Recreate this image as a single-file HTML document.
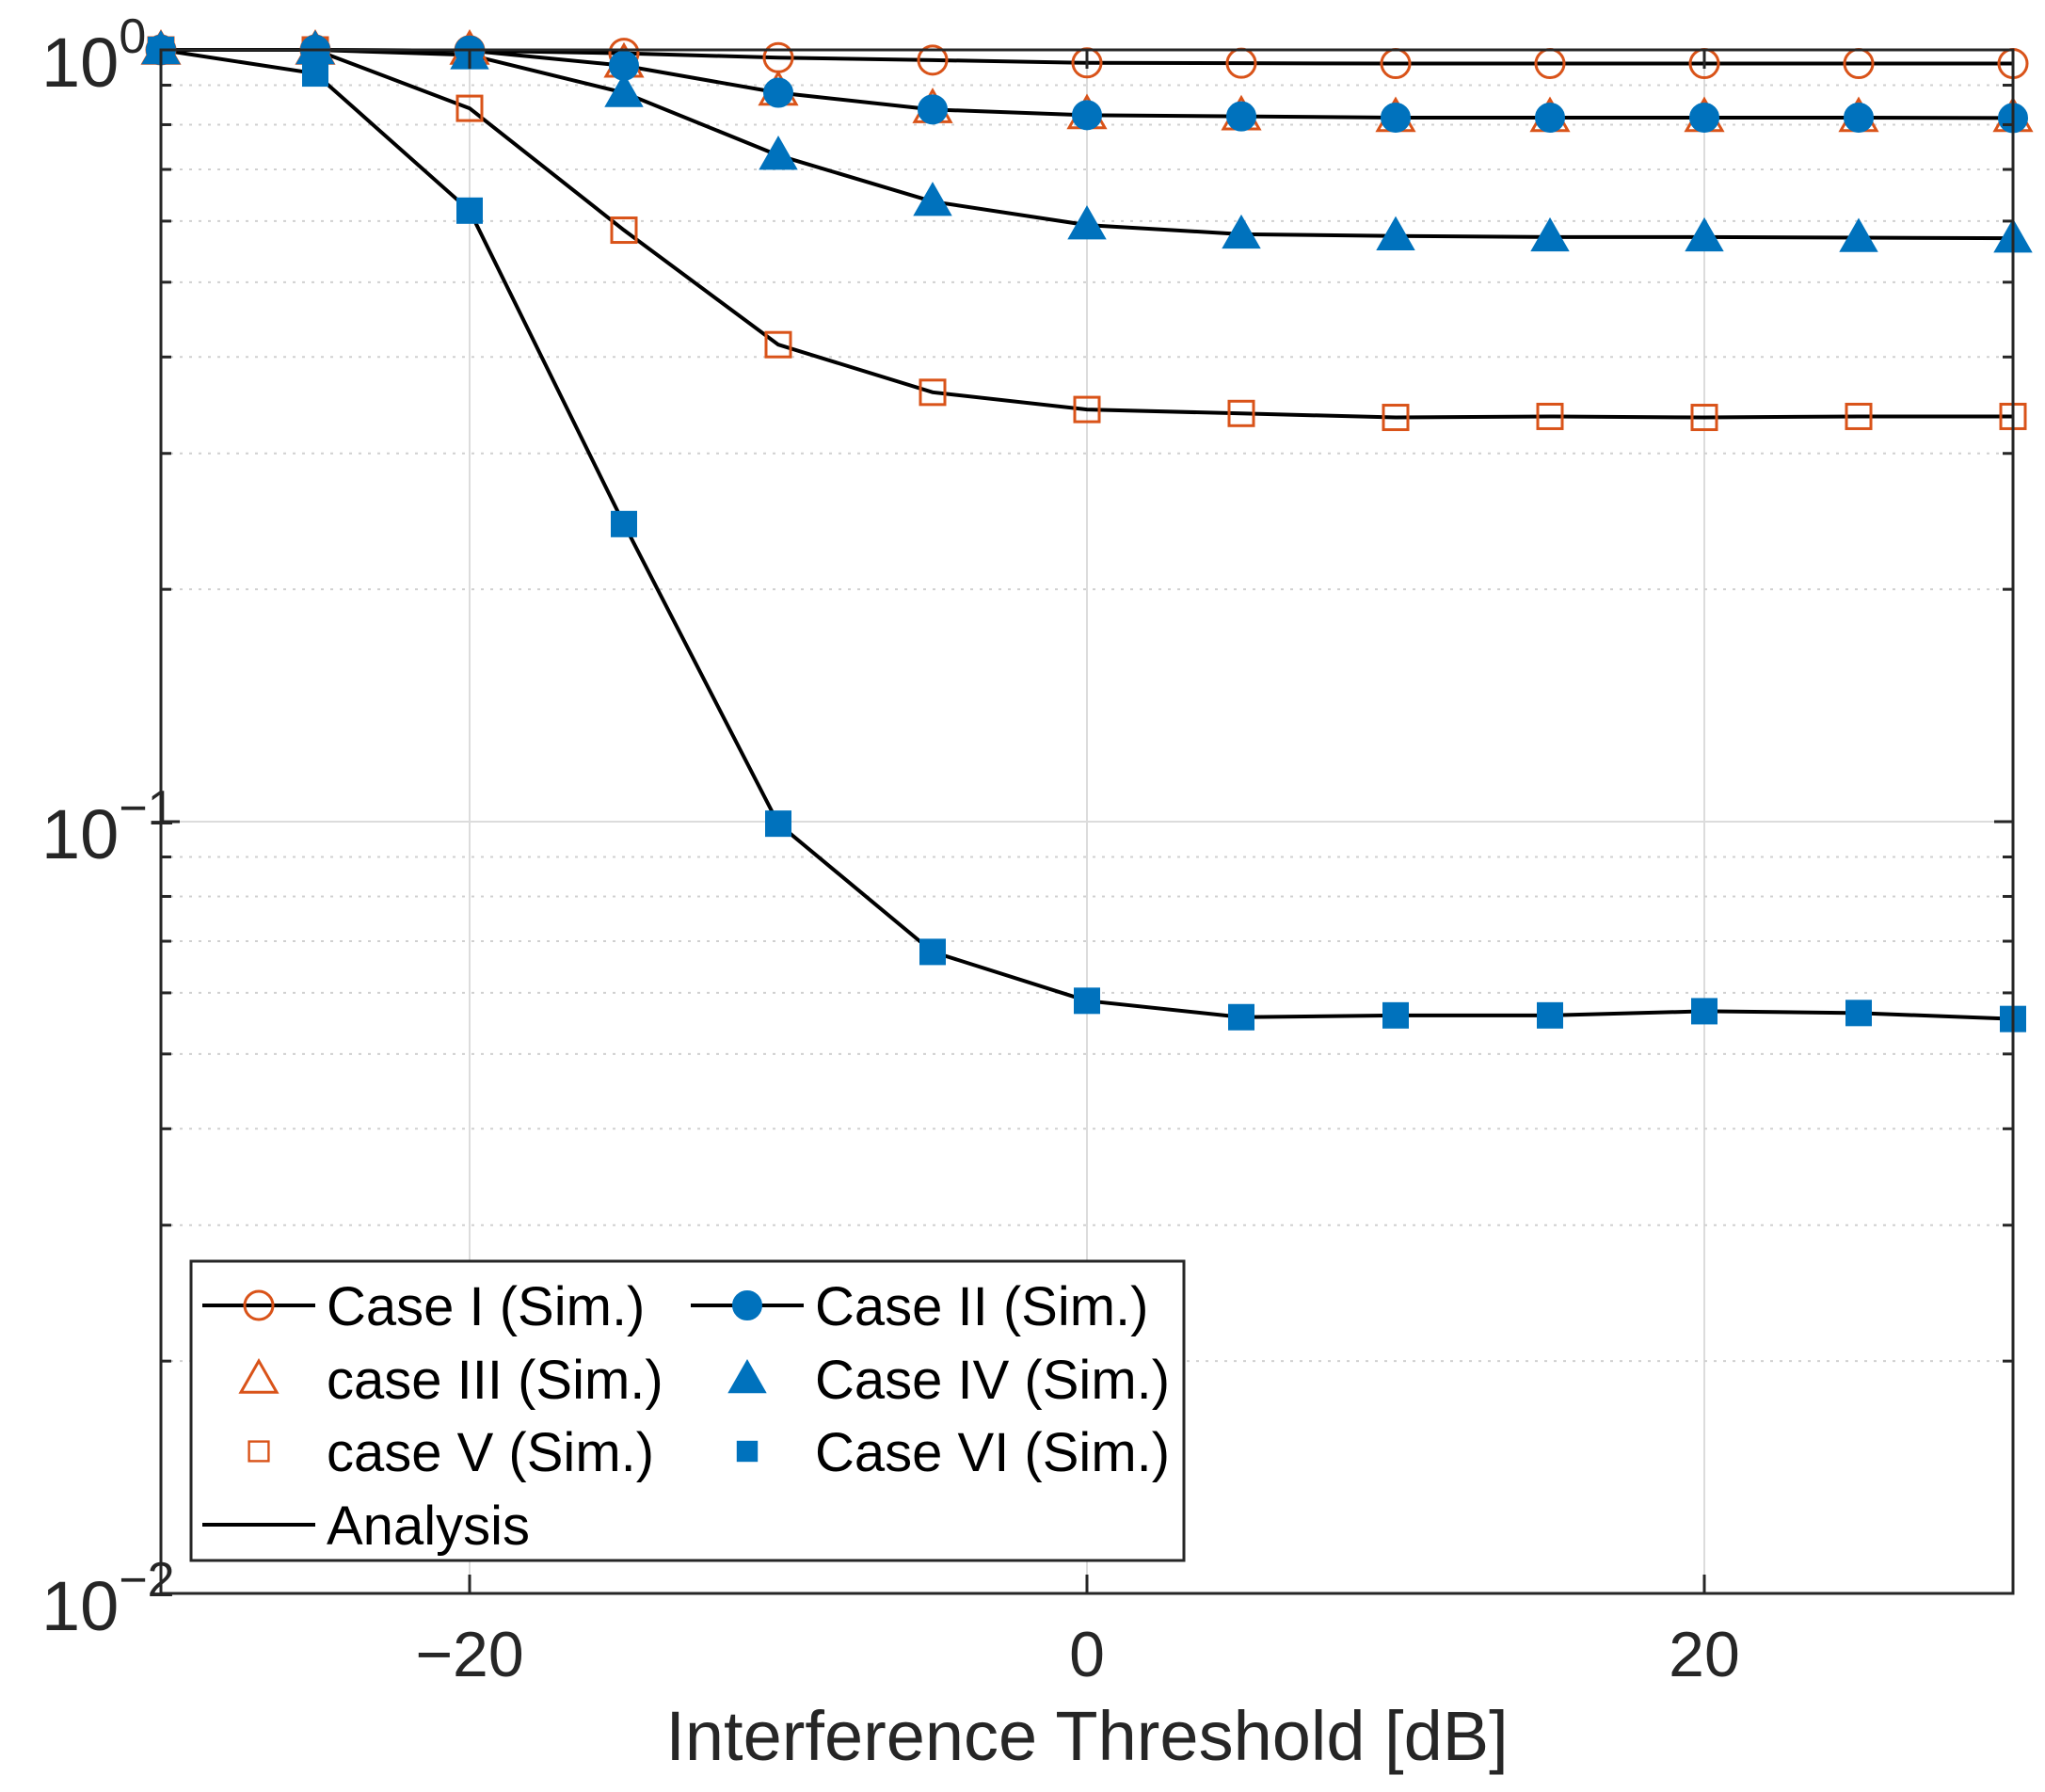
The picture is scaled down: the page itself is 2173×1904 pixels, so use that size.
<!DOCTYPE html>
<html><head><meta charset="utf-8"><style>
html,body{margin:0;padding:0;background:#fff;}
svg{display:block;font-family:"Liberation Sans",sans-serif;}
</style></head><body>
<svg id="chart" width="2173" height="1904" viewBox="0 0 2173 1904" xmlns="http://www.w3.org/2000/svg">
<g id="grid"></g>
<g id="series"></g>
<g id="axes"></g>
<g id="legend"></g>
</svg>
<script>
const xValues = [-30,-25,-20,-15,-10,-5,0,5,10,15,20,25,30];
const caseI   = [1.0,1.0,0.998,0.99,0.977,0.97,0.962,0.961,0.96,0.96,0.96,0.96,0.96];
const caseII  = [1.0,1.0,0.998,0.954,0.88,0.837,0.823,0.82,0.817,0.817,0.817,0.817,0.816];
const caseIII = [1.0,1.0,1.0,0.962,0.885,0.84,0.825,0.822,0.818,0.818,0.818,0.818,0.818];
const caseIV  = [1.0,1.0,0.985,0.88,0.73,0.636,0.593,0.577,0.574,0.572,0.572,0.571,0.57];
const caseV   = [1.0,1.0,0.84,0.584,0.415,0.36,0.342,0.338,0.334,0.335,0.334,0.335,0.335];
const caseVI  = [1.0,0.932,0.619,0.243,0.0994,0.0678,0.0586,0.0558,0.0561,0.0561,0.0568,0.0565,0.0555];
const xTicks = [-20,0,20];
const xTickLabels = ["\u221220","0","20"];
const yTickExps = [0,-1,-2];
const yTickLabels = ["0","\u22121","\u22122"];

const L=171,R=2139,T=53,B=1693;
const xs=v=>L+(v+30)/60*(R-L);
const ys=v=>T+(0-Math.log10(v))/2*(B-T);
const NS="http://www.w3.org/2000/svg";
function mk(tag,attrs,parent){const e=document.createElementNS(NS,tag);for(const k in attrs)e.setAttribute(k,attrs[k]);parent.appendChild(e);return e;}
const grid=document.getElementById('grid'),ser=document.getElementById('series'),ax=document.getElementById('axes'),lg=document.getElementById('legend');
const ORANGE="#D95319",BLUE="#0072BD";

xTicks.forEach(t=>{const g=mk('line',{x1:xs(t),x2:xs(t),y1:T,y2:B,stroke:'#dcdcdc','stroke-width':2},grid);
});
for(let d=-2;d<0;d++){for(let m=2;m<=9;m++){const v=m*Math.pow(10,d);
const g=mk('line',{x1:L,x2:R,y1:ys(v),y2:ys(v),stroke:'#d0d0d0','stroke-width':2,'stroke-dasharray':'3,7'},grid);
}}
yTickExps.forEach(e=>{const g=mk('line',{x1:L,x2:R,y1:ys(Math.pow(10,e)),y2:ys(Math.pow(10,e)),stroke:'#dcdcdc','stroke-width':2},grid);
});

function line(vals,name){const d=vals.map((v,i)=>(i?'L':'M')+xs(xValues[i])+','+ys(v)).join(' ');
const p=mk('path',{d:d,fill:'none',stroke:'#000','stroke-width':4},ser);
}
function marker(type,x,y,color,filled,parent){let e;
if(type==='circle')e=mk('circle',{cx:x,cy:y,r:15},parent);
else if(type==='tri'){const s=19;e=mk('polygon',{points:`${x},${y-s} ${x-s},${y+s*0.75} ${x+s},${y+s*0.75}`},parent);}
else e=mk('rect',{x:x-13,y:y-13,width:26,height:26},parent);
e.setAttribute('fill',filled?color:'none');e.setAttribute('stroke',color);e.setAttribute('stroke-width',filled?2:3);return e;}
function markers(vals,type,color,filled,name){vals.forEach((v,i)=>{const e=marker(type,xs(xValues[i]),ys(v),color,filled,ser);
});}
line(caseI,'analysis-line-case-1');line(caseII,'analysis-line-case-2');line(caseIV,'analysis-line-case-4');line(caseV,'analysis-line-case-5');line(caseVI,'analysis-line-case-6');
markers(caseI,'circle',ORANGE,false,'case-1-point');
markers(caseIII,'tri',ORANGE,false,'case-3-point');
markers(caseV,'rect',ORANGE,false,'case-5-point');
markers(caseII,'circle',BLUE,true,'case-2-point');
markers(caseIV,'tri',BLUE,true,'case-4-point');
markers(caseVI,'rect',BLUE,true,'case-6-point');

const box=mk('rect',{x:L,y:T,width:R-L,height:B-T,fill:'none',stroke:'#262626','stroke-width':3},ax);

xTicks.forEach((t,i)=>{mk('line',{x1:xs(t),x2:xs(t),y1:B,y2:B-20,stroke:'#262626','stroke-width':3},ax);
mk('line',{x1:xs(t),x2:xs(t),y1:T,y2:T+20,stroke:'#262626','stroke-width':3},ax);
const tx=mk('text',{x:xs(t),y:1781,'font-size':68,'text-anchor':'middle',fill:'#262626'},ax);tx.textContent=xTickLabels[i];
});
yTickExps.forEach((e,i)=>{const y=ys(Math.pow(10,e));
mk('line',{x1:L,x2:L+20,y1:y,y2:y,stroke:'#262626','stroke-width':3},ax);
mk('line',{x1:R,x2:R-20,y1:y,y2:y,stroke:'#262626','stroke-width':3},ax);
const tx=mk('text',{x:44,y:y+39,'font-size':74,fill:'#262626'},ax);

const a=document.createElementNS(NS,'tspan');a.textContent='10';tx.appendChild(a);
const b=document.createElementNS(NS,'tspan');b.setAttribute('dy','-36');b.setAttribute('font-size','52');b.textContent=yTickLabels[i];tx.appendChild(b);});
for(let d=-2;d<0;d++){for(let m=2;m<=9;m++){const y=ys(m*Math.pow(10,d));
mk('line',{x1:L,x2:L+11,y1:y,y2:y,stroke:'#262626','stroke-width':3},ax);mk('line',{x1:R,x2:R-11,y1:y,y2:y,stroke:'#262626','stroke-width':3},ax);}}
const xl=mk('text',{x:(L+R)/2,y:1870,'font-size':74,'text-anchor':'middle',fill:'#262626'},ax);xl.textContent='Interference Threshold [dB]';


const lb=mk('rect',{x:203,y:1340,width:1055,height:318,fill:'#fff',stroke:'#262626','stroke-width':3},lg);

const entries=[
 {x:275,tx:347,y:1387,t:'Case I (Sim.)',m:'circle',c:ORANGE,f:false,l:true},
 {x:794,tx:866,y:1387,t:'Case II (Sim.)',m:'circle',c:BLUE,f:true,l:true},
 {x:275,tx:347,y:1465,t:'case III (Sim.)',m:'tri',c:ORANGE,f:false,l:false},
 {x:794,tx:866,y:1465,t:'Case IV (Sim.)',m:'tri',c:BLUE,f:true,l:false},
 {x:275,tx:347,y:1542,t:'case V (Sim.)',m:'rect',c:ORANGE,f:false,l:false},
 {x:794,tx:866,y:1542,t:'Case VI (Sim.)',m:'rect',c:BLUE,f:true,l:false},
 {x:275,tx:347,y:1620,t:'Analysis',m:null,c:'#000',f:false,l:true}];
entries.forEach(en=>{const g=mk('g',{},lg);

if(en.l)mk('line',{x1:en.x-60,x2:en.x+60,y1:en.y,y2:en.y,stroke:'#000','stroke-width':4},g);
if(en.m){const s=marker(en.m,en.x,en.y,en.c,en.f,g);if(en.m==='rect'){s.setAttribute('transform',`translate(${en.x},${en.y}) scale(0.8) translate(${-en.x},${-en.y})`);}}
const t=mk('text',{x:en.tx,y:en.y+21,'font-size':58,fill:'#000'},g);t.textContent=en.t;});
</script>
</body></html>
